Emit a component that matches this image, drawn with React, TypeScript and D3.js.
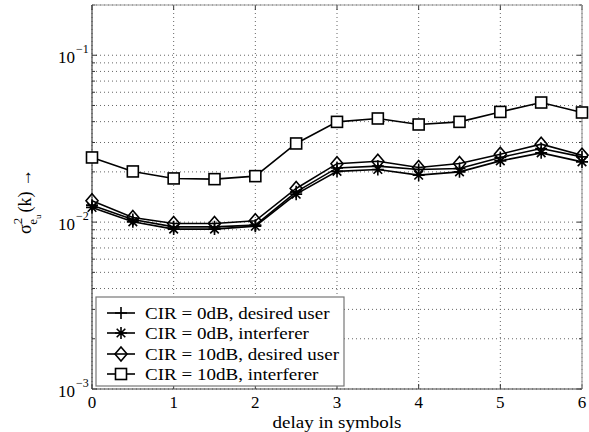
import React from "react";
import { scaleLinear, scaleLog, line } from "d3";

const delays = [0, 0.5, 1, 1.5, 2, 2.5, 3, 3.5, 4, 4.5, 5, 5.5, 6];
const cir0Desired = [0.01264, 0.01038, 0.00937, 0.00937, 0.00959, 0.01518, 0.02112, 0.02164, 0.02068, 0.02097, 0.0244, 0.02763, 0.0246];
const cir0Interferer = [0.01225, 0.01004, 0.00908, 0.00908, 0.00946, 0.01471, 0.02015, 0.02068, 0.01912, 0.02001, 0.02328, 0.026, 0.02296];
const cir10Desired = [0.01341, 0.01067, 0.00982, 0.00982, 0.01018, 0.01591, 0.0224, 0.02318, 0.02126, 0.02246, 0.02554, 0.02931, 0.02519];
const cir10Interferer = [0.0244, 0.02012, 0.01827, 0.01809, 0.01886, 0.0296, 0.03988, 0.04178, 0.03846, 0.03988, 0.04575, 0.05208, 0.04538];
const legendLabels = [
  "CIR = 0dB, desired user",
  "CIR = 0dB, interferer",
  "CIR = 10dB, desired user",
  "CIR = 10dB, interferer",
];
const xTicks = [0, 1, 2, 3, 4, 5, 6];
const yDecades = [-3, -2, -1];

const W = 589;
const H = 432;
const left = 92, right = 582, top = 5, bottom = 389;
const serif = { fontFamily: '"Liberation Serif", "DejaVu Serif", serif' };
// the reference text is a bit wider than plain Times
const stretch = 1.12;

function Marker({ kind, x, y }: { kind: string; x: number; y: number }) {
  const t = `translate(${x},${y})`;
  if (kind === "plus")
    return <path transform={t} d="M-6,0H6M0,-6V6" stroke="#000" strokeWidth={1.6} fill="none" />;
  if (kind === "star")
    return (
      <path
        transform={t}
        d="M-6,0H6M0,-6V6M-4.3,-4.3L4.3,4.3M-4.3,4.3L4.3,-4.3"
        stroke="#000"
        strokeWidth={1.6}
        fill="none"
      />
    );
  if (kind === "diamond")
    return <path transform={t} d="M0,-7L6,0L0,7L-6,0Z" stroke="#000" strokeWidth={1.6} fill="none" />;
  return <rect x={x - 5.5} y={y - 5.5} width={11} height={11} stroke="#000" strokeWidth={1.6} fill="#fff" />;
}

export default function App() {
  const x = scaleLinear().domain([0, 6]).range([left, right]);
  const y = scaleLog().domain([1e-3, 0.2]).range([bottom, top]);

  const series = [
    { kind: "plus", values: cir0Desired },
    { kind: "star", values: cir0Interferer },
    { kind: "diamond", values: cir10Desired },
    { kind: "square", values: cir10Interferer },
  ];

  const path = line<number>()
    .x((_, i) => x(delays[i]))
    .y((v) => y(v));

  const minor: number[] = [];
  for (const d of yDecades) {
    for (let m = 1; m <= 9; m++) {
      const v = m * Math.pow(10, d);
      if (v <= 0.2) minor.push(v);
    }
  }

  const lg = { x: 96, y: 297, w: 248, h: 89 };
  const rowY = [313, 333, 354, 374];

  return (
    <svg width={W} height={H} style={{ position: "absolute", left: 0, top: 0, background: "#fff" }}>
      <rect x={0} y={0} width={W} height={H} fill="#fff" />
      {/* grid */}
      {xTicks.map((t) => (
        <line key={"gx" + t} x1={x(t)} x2={x(t)} y1={top} y2={bottom} stroke="#666" strokeWidth={1} strokeDasharray="1,3" />
      ))}
      {minor.map((v, i) => (
        <line key={"gy" + i} x1={left} x2={right} y1={y(v)} y2={y(v)} stroke="#666" strokeWidth={1} strokeDasharray="1,3" />
      ))}
      {/* ticks */}
      {xTicks.map((t) => (
        <g key={"tx" + t}>
          <line x1={x(t)} x2={x(t)} y1={bottom} y2={bottom - 5} stroke="#333" />
          <line x1={x(t)} x2={x(t)} y1={top} y2={top + 5} stroke="#333" />
          <text x={x(t)} y={408} textAnchor="middle" style={serif} fontSize={17}>
            {t}
          </text>
        </g>
      ))}
      {minor.map((v, i) => {
        const major = Math.abs(Math.log10(v) - Math.round(Math.log10(v))) < 1e-9;
        const len = major ? 5 : 3;
        return (
          <g key={"ty" + i}>
            <line x1={left} x2={left + len} y1={y(v)} y2={y(v)} stroke="#333" />
            <line x1={right} x2={right - len} y1={y(v)} y2={y(v)} stroke="#333" />
          </g>
        );
      })}
      {yDecades.map((d) => (
        <g key={"yl" + d} style={serif}>
          <text x={75} y={y(Math.pow(10, d)) + 8} textAnchor="end" fontSize={17}>
            10
          </text>
          <text x={76} y={y(Math.pow(10, d)) - 2} fontSize={12}>
            {"\u2212" + Math.abs(d)}
          </text>
        </g>
      ))}
      {/* frame */}
      <line x1={left} x2={right} y1={top} y2={top} stroke="#999" strokeWidth={1.2} />
      <line x1={right} x2={right} y1={top} y2={bottom} stroke="#999" strokeWidth={1.2} />
      <line x1={left} x2={left} y1={top} y2={bottom} stroke="#444" strokeWidth={1.2} />
      <line x1={left} x2={right} y1={bottom} y2={bottom} stroke="#444" strokeWidth={1.2} />
      {/* series */}
      {series.map((s) => (
        <path key={"l" + s.kind} d={path(s.values) || ""} fill="none" stroke="#000" strokeWidth={1.6} />
      ))}
      {series.map((s) =>
        s.values.map((v, i) => <Marker key={s.kind + i} kind={s.kind} x={x(delays[i])} y={y(v)} />)
      )}
      {/* legend */}
      <rect x={lg.x} y={lg.y} width={lg.w} height={lg.h} fill="#fff" stroke="#777" strokeWidth={1.2} />
      {series.map((s, i) => (
        <g key={"lg" + i}>
          <line x1={107} x2={135} y1={rowY[i]} y2={rowY[i]} stroke="#000" strokeWidth={1.6} />
          <Marker kind={s.kind} x={121} y={rowY[i]} />
          <text transform={`translate(145,${rowY[i] + 6}) scale(${stretch},1)`} style={serif} fontSize={17}>
            {legendLabels[i]}
          </text>
        </g>
      ))}
      {/* axis labels */}
      <text transform={`translate(337,428) scale(${stretch},1)`} textAnchor="middle" style={serif} fontSize={17}>
        delay in symbols
      </text>
      <text transform="translate(31,234) rotate(-90)" style={serif} fontSize={18}>
        σ
        <tspan fontSize={13} dy={-9}>2</tspan>
        <tspan fontSize={13} dx={-7} dy={15}>e</tspan>
        <tspan fontSize={9} dy={4}>u</tspan>
        <tspan dx={2} dy={-10}>(k) →</tspan>
      </text>
    </svg>
  );
}
